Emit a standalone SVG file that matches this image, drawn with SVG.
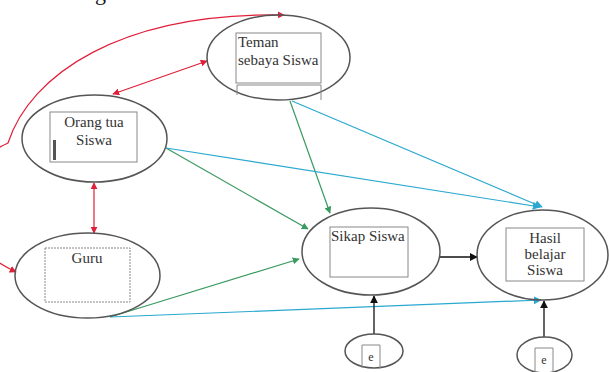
<svg xmlns="http://www.w3.org/2000/svg" width="609" height="372" viewBox="0 0 609 372">
<defs>
<style>
.el{fill:none;stroke:#555;stroke-width:1.5}
.bx{fill:none;stroke:#888;stroke-width:1}
.t{font-size:15px;fill:#333}
.r{fill:none;stroke:#e0203a;stroke-width:1.2}
.g{fill:none;stroke:#3a9a60;stroke-width:1.2}
.b{fill:none;stroke:#2aa8d0;stroke-width:1.2}
.k{fill:none;stroke:#111;stroke-width:1.3}
</style>
<marker id="ar" viewBox="0 0 10 10" refX="9" refY="5" markerWidth="7" markerHeight="7" orient="auto-start-reverse" markerUnits="userSpaceOnUse"><path d="M0,0L10,5L0,10z" fill="#e0203a"/></marker>
<marker id="ag" viewBox="0 0 10 10" refX="9" refY="5" markerWidth="7" markerHeight="7" orient="auto" markerUnits="userSpaceOnUse"><path d="M0,0L10,5L0,10z" fill="#3a9a60"/></marker>
<marker id="ab" viewBox="0 0 10 10" refX="9" refY="5" markerWidth="8" markerHeight="8" orient="auto" markerUnits="userSpaceOnUse"><path d="M0,0L10,5L0,10z" fill="#2aa8d0"/></marker>
<marker id="ak" viewBox="0 0 10 10" refX="9" refY="5" markerWidth="8" markerHeight="8" orient="auto" markerUnits="userSpaceOnUse"><path d="M0,0L10,5L0,10z" fill="#111"/></marker>
</defs>
<rect width="609" height="372" fill="#fff"/>
<g font-family="'Liberation Serif', 'Times New Roman', serif">
<text x="95" y="0" font-size="22" fill="#111">g</text>

<g id="connectors">
<path class="r" d="M16,272 C-60,235 -60,175 8,143 C30,75 120,12 284,15" marker-start="url(#ar)" marker-end="url(#ar)"/>
<line class="r" x1="207" y1="61" x2="113" y2="94" marker-start="url(#ar)" marker-end="url(#ar)"/>
<line class="r" x1="94" y1="183" x2="94" y2="233" marker-start="url(#ar)" marker-end="url(#ar)"/>
<line class="g" x1="166" y1="148" x2="308" y2="229" marker-end="url(#ag)"/>
<line class="g" x1="290" y1="101" x2="330" y2="213" marker-end="url(#ag)"/>
<line class="g" x1="110" y1="317" x2="299" y2="259" marker-end="url(#ag)"/>
<line class="b" x1="166" y1="148" x2="540" y2="207" marker-end="url(#ab)"/>
<line class="b" x1="292" y1="101" x2="542" y2="207" marker-end="url(#ab)"/>
<line class="b" x1="110" y1="317" x2="541" y2="300" marker-end="url(#ab)"/>
<line class="k" x1="440" y1="257" x2="477" y2="257" marker-end="url(#ak)"/>
<line class="k" x1="374" y1="334" x2="374" y2="296" marker-end="url(#ak)"/>
<line class="k" x1="544" y1="337" x2="544" y2="301" marker-end="url(#ak)"/>
</g>

<g id="teman">
<ellipse class="el" cx="278.5" cy="57.5" rx="71.5" ry="42.5"/>
<rect class="bx" x="236" y="33" width="85" height="50"/>
<path class="bx" d="M237,85H321M237,85V95M321,85V100"/>
<text class="t" x="238" y="47">Teman</text>
<text class="t" x="238" y="65">sebaya Siswa</text>
</g>

<g id="orangtua">
<ellipse class="el" cx="94.5" cy="138.5" rx="72.5" ry="43.5"/>
<rect class="bx" x="50" y="112" width="87" height="50"/>
<rect x="53" y="140" width="3" height="20" fill="#555"/>
<text class="t" x="94" y="127" text-anchor="middle">Orang tua</text>
<text class="t" x="94" y="145" text-anchor="middle">Siswa</text>
</g>

<g id="guru">
<ellipse class="el" cx="87.5" cy="275.5" rx="72.5" ry="42.5"/>
<rect class="bx" x="45" y="248" width="85" height="54" stroke-dasharray="2,1"/>
<text class="t" x="87" y="263" text-anchor="middle">Guru</text>
</g>

<g id="sikap">
<ellipse class="el" cx="371" cy="251.5" rx="69" ry="43.5"/>
<rect class="bx" x="330" y="227" width="78" height="50"/>
<text class="t" x="331" y="241">Sikap Siswa</text>
</g>

<g id="hasil">
<ellipse class="el" cx="542.5" cy="255" rx="65.5" ry="45"/>
<rect class="bx" x="506" y="228" width="78" height="53"/>
<text class="t" x="545" y="243" text-anchor="middle" font-size="14">Hasil</text>
<text class="t" x="545" y="259" text-anchor="middle" font-size="14">belajar</text>
<text class="t" x="545" y="275" text-anchor="middle" font-size="14">Siswa</text>
</g>

<g id="e1">
<ellipse class="el" cx="374" cy="351" rx="29" ry="17"/>
<path class="bx" d="M362,368V345H380V368"/>
<text x="371" y="361" text-anchor="middle" font-size="12" fill="#333">e</text>
</g>

<g id="e2">
<ellipse class="el" cx="544.5" cy="355" rx="27.5" ry="18"/>
<path class="bx" d="M535,372V348H553V372"/>
<text x="544" y="364" text-anchor="middle" font-size="12" fill="#333">e</text>
</g>
</g>
</svg>
